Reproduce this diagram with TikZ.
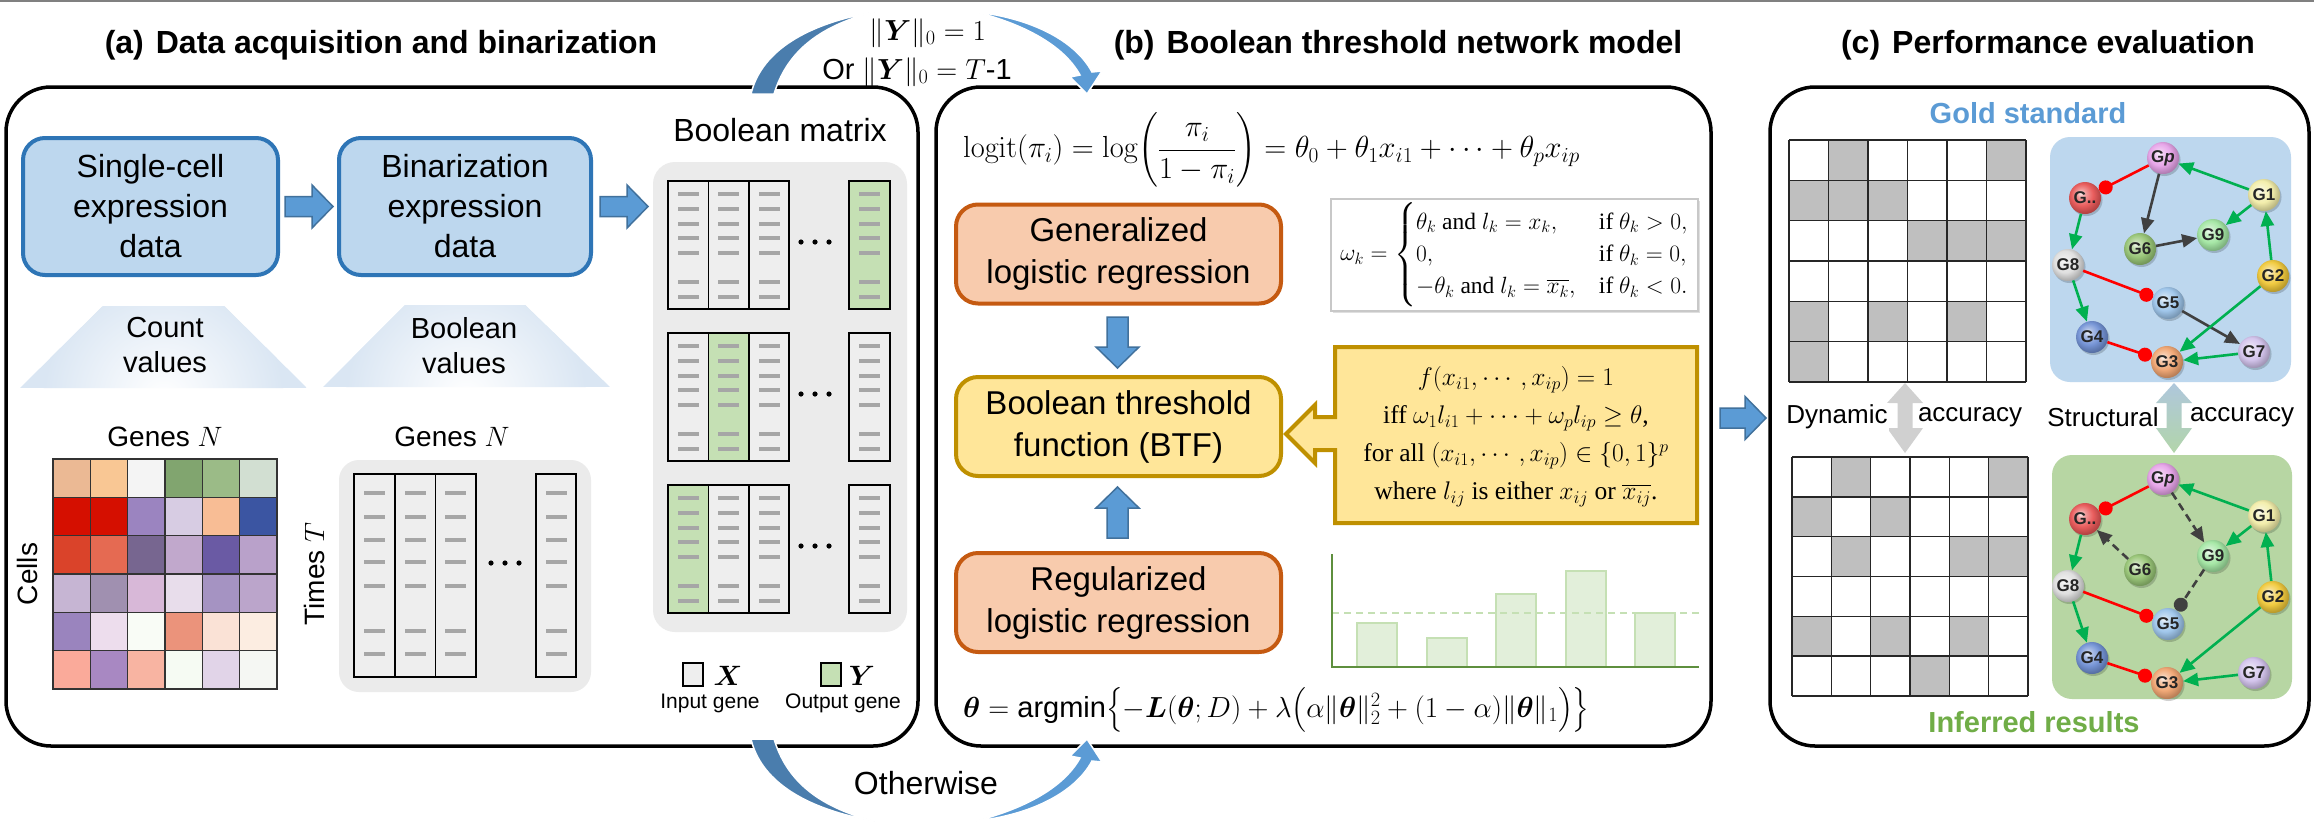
\RequirePackage{fix-cm}
\documentclass[tikz,border=0pt]{standalone}
\usepackage{amsmath}
\usepackage[no-math]{fontspec}
\setmainfont{Liberation Sans}
\newfontfamily\serif{Liberation Serif}
\usetikzlibrary{arrows.meta,shadows}

\definecolor{boxblue}{HTML}{2E75B6}
\definecolor{boxfill}{HTML}{BDD7EE}
\definecolor{arrfill}{HTML}{5B9BD5}
\definecolor{arrdraw}{HTML}{41719C}
\definecolor{arcdark}{HTML}{4A7DAD}
\definecolor{arclight}{HTML}{5B9BD5}
\definecolor{trapblue}{HTML}{DAE6F3}
\definecolor{panelgray}{HTML}{EBEBEB}
\definecolor{colfill}{HTML}{EEEEEE}
\definecolor{ygreen}{HTML}{C5E0B4}
\definecolor{dashgray}{HTML}{A6A6A6}
\definecolor{orbd}{HTML}{C55A11}
\definecolor{orfill}{HTML}{F8CBAD}
\definecolor{gdbd}{HTML}{BF9000}
\definecolor{gdfill}{HTML}{FFE699}
\definecolor{barfill}{HTML}{E2EFDA}
\definecolor{barbd}{HTML}{C5E0B4}
\definecolor{axisgreen}{HTML}{5E8F3E}
\definecolor{gridgray}{HTML}{BFBFBF}
\definecolor{netblue}{HTML}{BDD7EE}
\definecolor{netgreen}{HTML}{B7D6A3}
\definecolor{goldtxt}{HTML}{5B9BD5}
\definecolor{inftxt}{HTML}{70AD47}
\definecolor{actgreen}{HTML}{00B050}
\definecolor{inhred}{HTML}{FF0000}
\definecolor{darkedge}{HTML}{404040}
\definecolor{dynarrow}{HTML}{D0D0D0}
\definecolor{sttop}{HTML}{AFC7DC}
\definecolor{stbot}{HTML}{B2D5AA}
\definecolor{shadowgray}{HTML}{C8C8C8}
\definecolor{cGp}{HTML}{E6A2E8}
\definecolor{cGx}{HTML}{E85656}
\definecolor{cGa}{HTML}{F2EDA8}
\definecolor{cGi}{HTML}{A2E6A2}
\definecolor{cGf}{HTML}{96C474}
\definecolor{cGh}{HTML}{DEDEDE}
\definecolor{cGb}{HTML}{F0C838}
\definecolor{cGe}{HTML}{9CC4EA}
\definecolor{cGd}{HTML}{7090D4}
\definecolor{cGg}{HTML}{D2C2EC}
\definecolor{cGc}{HTML}{F0A470}

\makeatletter
\pgfdeclareradialshading[tikz@ball]{softball}{\pgfpoint{-7bp}{8bp}}{%
 color(0bp)=(tikz@ball!12!white); color(7bp)=(tikz@ball!60!white);
 color(17bp)=(tikz@ball!95!white); color(27bp)=(tikz@ball!78!black);
 color(50bp)=(tikz@ball!55!black)}
\makeatother

\newcommand\mt[1]{\text{\serif #1}}
\newcommand\fatR[3]{\filldraw[fatarrow] (#1,#3-10) -- (#2-21,#3-10) -- (#2-21,#3-21.5) -- (#2,#3) -- (#2-21,#3+21.5) -- (#2-21,#3+10) -- (#1,#3+10) -- cycle;}
\newcommand\fatD[3]{\filldraw[fatarrow] (#1-10.5,#2) -- (#1+10.5,#2) -- (#1+10.5,#3-21) -- (#1+21.5,#3-21) -- (#1,#3) -- (#1-21.5,#3-21) -- (#1-10.5,#3-21) -- cycle;}
\newcommand\fatU[3]{\filldraw[fatarrow] (#1-10.5,#2) -- (#1+10.5,#2) -- (#1+10.5,#3+21) -- (#1+21.5,#3+21) -- (#1,#3) -- (#1-21.5,#3+21) -- (#1-10.5,#3+21) -- cycle;}
\newcommand\dblV[4]{\path[#4] (#1,#2) -- (#1+18,#2+20) -- (#1+7.5,#2+20) -- (#1+7.5,#3-25) -- (#1+18,#3-25) -- (#1,#3) -- (#1-18,#3-25) -- (#1-7.5,#3-25) -- (#1-7.5,#2+20) -- (#1-18,#2+20) -- cycle;}
\newcommand\trapz[7]{%
 \begin{scope}
 \clip (#1,#5) -- (#2,#5) -- (#3,#6) -- (#4,#6) -- cycle;
 \fill[trapblue] (#4,#5) rectangle (#3,#6);
 \shade[inner color=white, outer color=trapblue] (#7,#6+10) circle (120pt);
 \end{scope}}
\newcommand\ggrid[5]{%
 \foreach \rr/\cc in {#5} \fill[gridgray] (#1+\cc*#3-#3,#2+\rr*#4-#4) rectangle ++(#3,#4);
 \foreach \ii in {0,...,6} {\draw[gridline] (#1+\ii*#3,#2) -- (#1+\ii*#3,#2+6*#4);
   \draw[gridline] (#1,#2+\ii*#4) -- (#1+6*#3,#2+\ii*#4);}}
\newcommand\netnodes[2]{%
 \node[gball=cGp] (gp#1) at (2163,158+#2) {G\textit{p}};
 \node[gball=cGx] (gx#1) at (2085,198+#2) {G..};
 \node[gball=cGa] (ga#1) at (2264,195+#2) {G1};
 \node[gball=cGi] (gi#1) at (2213,235+#2) {G9};
 \node[gball=cGf] (gf#1) at (2140,249+#2) {G6};
 \node[gball=cGh] (gh#1) at (2068,265+#2) {G8};
 \node[gball=cGb] (gb#1) at (2273,276+#2) {G2};
 \node[gball=cGe] (ge#1) at (2168,303+#2) {G5};
 \node[gball=cGd] (gd#1) at (2092,337+#2) {G4};
 \node[gball=cGg] (gg#1) at (2254,352+#2) {G7};
 \node[gball=cGc] (gc#1) at (2167,362+#2) {G3};}

\tikzset{
 panel/.style={draw=black, line width=3.5pt, rounded corners=45pt},
 ptitle/.style={font=\bfseries\fontsize{32}{38}\selectfont, inner sep=0pt},
 bluebox/.style={draw=boxblue, fill=boxfill, line width=4pt, rounded corners=22pt, minimum width=255pt, minimum height=137pt, align=center, inner sep=0pt, font=\fontsize{32}{40}\selectfont},
 orbox/.style={draw=orbd, fill=orfill, line width=4pt, rounded corners=22pt, minimum width=325pt, minimum height=99pt, align=center, inner sep=0pt, font=\fontsize{33}{42}\selectfont},
 gdbox/.style={orbox, draw=gdbd, fill=gdfill},
 fatarrow/.style={fill=arrfill, draw=arrdraw, line width=1.5pt},
 traplbl/.style={align=center, font=\fontsize{29}{35}\selectfont, inner sep=0pt},
 lbl/.style={font=\fontsize{28}{34}\selectfont, inner sep=0pt},
 colbox/.style={draw=black, line width=1.6pt},
 dashbar/.style={fill=dashgray},
 gridline/.style={draw=black!85, line width=1.5pt},
 gball/.style={circle, minimum size=32pt, inner sep=0pt, ball color=#1, shading=softball,
   drop shadow={shadow xshift=1.5pt, shadow yshift=-2pt, opacity=0.18, fill=black},
   font=\bfseries\fontsize{17}{17}\selectfont, text=black!85},
 act/.style={draw=actgreen, line width=2.6pt, -{Triangle[length=15pt,width=13pt]}},
 gar/.style={draw=darkedge, line width=2.6pt, -{Triangle[length=15pt,width=13pt]}},
 inh/.style={draw=inhred, line width=2.6pt, -{Circle[length=14pt]}},
 ginh/.style={draw=darkedge, line width=2.6pt, -{Circle[length=14pt]}},
 dsh/.style={dash pattern=on 8pt off 5pt},
 acc/.style={font=\fontsize{26}{30}\selectfont, fill=white, inner sep=1.5pt},
}

\begin{document}
\begin{tikzpicture}[x=1pt,y=-1pt]
\useasboundingbox (0,0) rectangle (2314,828);
\fill[white] (0,0) rectangle (2314,828);
\draw[gray, line width=1.5pt] (0,0.8) -- (2314,0.8);

% ---------------- titles
\node[ptitle] (ta) at (381,45) {(a)\hspace{12pt}Data acquisition and binarization};
\node[ptitle] (tb) at (1398,45) {(b)\hspace{12pt}Boolean threshold network model};
\node[ptitle] (tc) at (2048,45) {(c)\hspace{12pt}Performance evaluation};

% ---------------- panel boxes
\draw[panel] (6,87) rectangle (918,746);
\draw[panel] (936,87) rectangle (1711,746);
\draw[panel] (1770,87) rectangle (2309,746);

% ---------------- curved arrows between (a) and (b)
\filldraw[arcdark, draw=white, line width=1.5pt] (751,94) .. controls (760,55) and (800,25) .. (874,12) .. controls (815,27) and (786,55) .. (774,94) -- cycle;
\filldraw[arclight, draw=white, line width=1.5pt] (976,12) .. controls (1030,18) and (1075,40) .. (1092,72) -- (1102,71) -- (1087,94) -- (1070,77) -- (1080,75) .. controls (1065,48) and (1030,26) .. (976,12) -- cycle;
\begin{scope}[shift={(0,833)}, yscale=-1]
\filldraw[arcdark, draw=white, line width=1.5pt] (751,94) .. controls (760,55) and (800,25) .. (874,12) .. controls (815,27) and (786,55) .. (774,94) -- cycle;
\filldraw[arclight, draw=white, line width=1.5pt] (976,12) .. controls (1030,18) and (1075,40) .. (1092,72) -- (1102,71) -- (1087,94) -- (1070,77) -- (1080,75) .. controls (1065,48) and (1030,26) .. (976,12) -- cycle;
\end{scope}
\node[inner sep=0pt, font=\fontsize{29}{34}\selectfont] (cond1) at (928,33) {$\|\boldsymbol{Y}\|_0=1$};
\node[inner sep=0pt, font=\fontsize{29}{34}\selectfont] (cond2) at (917,72) {Or\hspace{8pt}$\|\boldsymbol{Y}\|_0=T$-1};
\node[inner sep=0pt, font=\fontsize{32}{38}\selectfont] (oth) at (926,783) {Otherwise};

% ---------------- panel (a)
\node[bluebox] (sc) at (150.5,206.5) {Single-cell\\expression\\data};
\node[bluebox, minimum width=252pt] (bz) at (465,206.5) {Binarization\\expression\\data};
\fatR{285}{333}{206.5}
\fatR{600}{648}{206.5}

\trapz{103}{224}{307}{20}{306}{388}{163.5}
\trapz{405}{525}{610}{323}{305}{387}{466}
\node[traplbl] (cv) at (165,345.5) {Count\\values};
\node[traplbl] (bv) at (464,345.5) {Boolean\\values};

\node[lbl] (gn1) at (165,437) {Genes $N$};
\node[lbl] (gn2) at (452,437) {Genes $N$};
\node[lbl, rotate=90] (cells) at (27,574) {Cells};
\node[lbl, rotate=90] (times) at (314,574) {Times\hspace{8pt}$T$};

% heatmap
\foreach \rw/\cols in {0/{EBB994,F9C794,F4F4F4,81A56F,9BBB87,D2DFD2},
  1/{D50F00,D50F00,9B84C0,D7CCE3,F8BD95,3B55A2},
  2/{DA432A,E56A52,776690,C1A8CC,6A5AA4,B9A1CA},
  3/{C6B5D3,A090B0,D8B8D8,E8DDEB,A593C2,BBA5CB},
  4/{9A84BE,EDDDED,F9FCF6,EB937B,FAE2D6,FCEDE1},
  5/{FAAA9A,A888C2,F8B4A2,F6FBF3,E1D4E8,F5F7F3}} {
  \foreach \hc [count=\jj from 0] in \cols {
    \edef\tmpdef{\noexpand\definecolor{tmpc}{HTML}{\hc}}\tmpdef
    \filldraw[fill=tmpc, draw=black!80, line width=1.5pt] (53+\jj*37.33,459+\rw*38.33) rectangle ++(37.33,38.33);
  }
}

% times panel
\fill[panelgray, rounded corners=20pt] (339,460) rectangle (591,692);
\foreach \xa/\xb in {354/395,395/435.5,435.5/476,536/576} {
  \filldraw[colbox, fill=colfill] (\xa,474) rectangle (\xb,677);
  \foreach \dy in {493,517,540,562,586,631,654}
    \fill[dashbar] ({(\xa+\xb)/2-10.5},{\dy-2.2}) rectangle ++(21,4.4);
}
\foreach \dx in {491,505,519} \fill[black] (\dx,563) circle (2.6pt);

% boolean matrix
\node[inner sep=0pt, font=\fontsize{32}{38}\selectfont] (bm) at (780,130) {Boolean matrix};
\fill[panelgray, rounded corners=22pt] (653,162) rectangle (907,632);
\foreach \ty/\gi in {181/4,333/2,485/1} {
  \foreach \xa/\xb [count=\kk] in {668/708.5,708.5/749,749/789,849/890} {
    \ifnum\kk=\gi \def\fc{ygreen}\else\def\fc{colfill}\fi
    \filldraw[colbox, fill=\fc] (\xa,\ty) rectangle (\xb,\ty+128);
    \foreach \dy in {13,28,43,57,72,101,116}
      \fill[dashbar] ({(\xa+\xb)/2-10.5},{\ty+\dy-2.2}) rectangle ++(21,4.4);
  }
  \foreach \dx in {801,815,829} \fill[black] (\dx,\ty+61) circle (2.6pt);
}
% legend
\filldraw[colbox, fill=colfill] (683,663) rectangle (703,686);
\filldraw[colbox, fill=ygreen] (821,663) rectangle (841,686);
\node[inner sep=0pt, font=\fontsize{28}{30}\selectfont] (lx) at (728,676) {$\boldsymbol{X}$};
\node[inner sep=0pt, font=\fontsize{28}{30}\selectfont] (ly) at (862,676) {$\boldsymbol{Y}$};
\node[inner sep=0pt, font=\fontsize{21}{24}\selectfont] (lin) at (710,703) {Input gene};
\node[inner sep=0pt, font=\fontsize{21}{24}\selectfont] (lout) at (843,703) {Output gene};

% ---------------- panel (b)
\node[anchor=west, inner sep=0pt, font=\fontsize{30.5}{36}\selectfont] (logit) at (963,150)
  {$\mathrm{logit}(\pi_i)=\log\!\left(\dfrac{\pi_i}{1-\pi_i}\right)=\theta_0+\theta_1x_{i1}+\cdots+\theta_px_{ip}$};
\node[orbox] (glr) at (1118.5,254) {Generalized\\logistic regression};
\node[draw=shadowgray, line width=2pt, fill=white, minimum width=367pt, minimum height=112pt, inner sep=0pt,
  drop shadow={shadow xshift=2pt, shadow yshift=-2pt, opacity=0.25}, font=\fontsize{23.5}{27}\selectfont] (wk) at (1514.5,255)
  {$\omega_k=\begin{cases}\theta_k\mt{ and }l_k=x_k, & \mt{if }\theta_k>0,\\ 0, & \mt{if }\theta_k=0,\\ -\theta_k\mt{ and }l_k=\overline{x_k}, & \mt{if }\theta_k<0.\end{cases}$};
\fatD{1117.5}{317}{368}
\node[gdbox] (btf) at (1118.5,426.5) {Boolean threshold\\function (BTF)};
\filldraw[fill=gdfill, draw=gdbd, line width=4pt] (1335,347) -- (1697,347) -- (1697,523) -- (1335,523) -- (1335,450) -- (1315,450) -- (1315,463) -- (1286,434) -- (1315,405) -- (1315,417) -- (1335,417) -- cycle;
\node[align=center, inner sep=0pt, font=\serif\fontsize{25.5}{38}\selectfont] (btftxt) at (1516,437)
  {$f(x_{i1},\cdots,x_{ip})=1$\\ iff $\omega_1l_{i1}+\cdots+\omega_pl_{ip}\geq\theta$,\\ for all $\left(x_{i1},\cdots,x_{ip}\right)\in\{0,1\}^p$\\ where $l_{ij}$ is either $x_{ij}$ or $\overline{x_{ij}}$.};
\fatU{1117.5}{538}{487}
\node[orbox] (rlr) at (1118.5,602.5) {Regularized\\logistic regression};
% bar chart
\foreach \xa/\ty in {1357/623,1427/638,1496/594,1566/571,1635/613}
  \filldraw[fill=barfill, draw=barbd, line width=1.5pt] (\xa,667) rectangle (\xa+40,\ty);
\draw[barbd, line width=1.5pt, dash pattern=on 7pt off 5pt] (1332,613) -- (1699,613);
\draw[axisgreen, line width=2pt] (1332,554) -- (1332,667) -- (1699,667);
\node[anchor=west, inner sep=0pt, font=\fontsize{29}{34}\selectfont] (argmin) at (963,710)
  {$\boldsymbol{\theta}=\text{argmin}\bigl\{-\boldsymbol{L}(\boldsymbol{\theta};D)+\lambda\bigl(\alpha\|\boldsymbol{\theta}\|_2^2+(1-\alpha)\|\boldsymbol{\theta}\|_1\bigr)\bigr\}$};

% arrow (b) -> (c)
\fatR{1720}{1766}{418}

% ---------------- panel (c)
\node[inner sep=0pt, font=\bfseries\fontsize{29}{34}\selectfont, text=goldtxt] (gold) at (2028,113) {Gold standard};
\ggrid{1789}{140}{39.5}{40.33}{1/2,1/6,2/1,2/2,2/3,3/4,3/5,3/6,5/1,5/3,5/5,6/1}
\fill[netblue, rounded corners=20pt] (2050,137) rectangle (2291,382);
\ggrid{1792}{457}{39.33}{39.83}{1/2,1/6,2/1,2/3,3/2,3/5,3/6,5/1,5/3,5/5,6/4}
\fill[netgreen, rounded corners=20pt] (2052,455) rectangle (2292,699);
\node[inner sep=0pt, font=\bfseries\fontsize{29}{34}\selectfont, text=inftxt] (inf) at (2034,722) {Inferred results};

\netnodes{a}{0}
\netnodes{b}{321}

% top network edges
\draw[inh] (gpa) -- (gxa);
\draw[act] (gaa) -- (gpa);
\draw[gar] (gpa) -- (gfa);
\draw[gar] (gfa) -- (gia);
\draw[act] (gaa) -- (gia);
\draw[act] (gxa) -- (gha);
\draw[act] (gba) -- (gaa);
\draw[inh] (gha) -- (gea);
\draw[gar] (gea) -- (gga);
\draw[act] (gba) -- (gca);
\draw[act] (gha) -- (gda);
\draw[inh] (gda) -- (gca);
\draw[act] (gga) -- (gca);

% bottom network edges
\draw[inh] (gpb) -- (gxb);
\draw[act] (gab) -- (gpb);
\draw[gar, dsh] (gpb) -- (gib);
\draw[gar, dsh] (gfb) -- (gxb);
\draw[act] (gab) -- (gib);
\draw[act] (gxb) -- (ghb);
\draw[act] (gbb) -- (gab);
\draw[ginh, dsh] (gib) -- (geb);
\draw[inh] (ghb) -- (geb);
\draw[act] (ghb) -- (gdb);
\draw[act] (gbb) -- (gcb);
\draw[inh] (gdb) -- (gcb);
\draw[act] (ggb) -- (gcb);

% accuracy arrows and labels
\dblV{1905}{383}{453}{fill=dynarrow}
\dblV{2174}{383}{453}{top color=sttop, bottom color=stbot}
\node[acc] (dyn) at (1837,417) {Dynamic};
\node[acc] (acc1) at (1970,417) {accuracy};
\node[acc] (str) at (2103,417) {Structural};
\node[acc] (acc2) at (2242,417) {accuracy};

\end{tikzpicture}
\end{document}
